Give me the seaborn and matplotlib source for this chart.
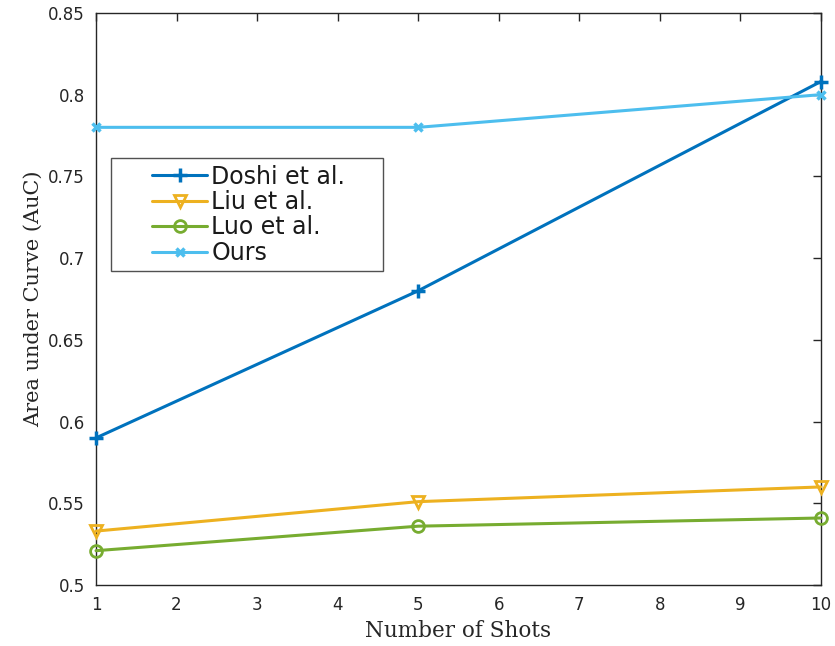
import matplotlib
matplotlib.use("Agg")
import matplotlib.pyplot as plt
from matplotlib.lines import Line2D
from matplotlib.legend_handler import HandlerLine2D
import seaborn as sns
import pandas as pd
import numpy as np

shots = [1, 5, 10]
doshi = [0.590, 0.680, 0.808]
liu = [0.533, 0.551, 0.560]
luo = [0.521, 0.536, 0.541]
ours = [0.780, 0.780, 0.800]
names = ["Doshi et al.", "Liu et al.", "Luo et al.", "Ours"]
colors = ["#0072BD", "#EDB120", "#77AC30", "#4DBEEE"]

sns.set_style("white")
plt.rcParams['font.family'] = ['DejaVu Sans']

fig = plt.figure(figsize=(8.35, 6.46), dpi=100)
ax = fig.add_axes([0.115, 0.0944, 0.868, 0.8856])

styles = [
    dict(marker="+", markersize=10, markeredgewidth=2.5),
    dict(marker="v", markersize=9, markeredgewidth=2, markerfacecolor="none"),
    dict(marker="o", markersize=8.5, markeredgewidth=2, markerfacecolor="none"),
    dict(marker="x", markersize=6, markeredgewidth=2.5),
]
series = [doshi, liu, luo, ours]
for name, vals, c, st in zip(names, series, colors, styles):
    df = pd.DataFrame({"shots": shots, "auc": vals})
    sns.lineplot(data=df, x="shots", y="auc", ax=ax, color=c, linewidth=2.2,
                 label=name, markeredgecolor=c, clip_on=False, zorder=3, **st)

ax.set_xlim(1, 10)
ax.set_ylim(0.5, 0.85)
ax.set_xticks(range(1, 11))
ax.set_yticks([0.5, 0.55, 0.6, 0.65, 0.7, 0.75, 0.8, 0.85])
ax.set_yticklabels(["0.5", "0.55", "0.6", "0.65", "0.7", "0.75", "0.8", "0.85"])
ax.tick_params(direction="in", length=6, width=1, top=True, right=True,
               labelsize=12, colors="#262626", pad=8)
for s in ax.spines.values():
    s.set_color("#262626")
    s.set_linewidth(1)
ax.set_xlabel("Number of Shots", fontsize=15.5, family="DejaVu Serif", color="#262626")
ax.set_ylabel("Area under Curve (AuC)", fontsize=15, family="DejaVu Serif", color="#262626")


class ShiftedHandler(HandlerLine2D):
    def get_xdata(self, legend, xdescent, ydescent, width, height, fontsize):
        x0 = -xdescent + width * 0.39
        x1 = -xdescent + width
        xdata = np.array([x0, x1])
        return xdata, np.array([(x0 + x1) / 2])


leg = ax.legend(loc="upper left", bbox_to_anchor=(0.0207, 0.547, 0.375, 0.1995),
                mode="expand", borderaxespad=0,
                fontsize=17, frameon=True, fancybox=False, handlelength=3.77,
                labelspacing=0.06, handletextpad=0.2, borderpad=0.28,
                handler_map={Line2D: ShiftedHandler(numpoints=1)})
leg.get_frame().set_edgecolor("#262626")
leg.get_frame().set_linewidth(1)
for t in leg.get_texts():
    t.set_color("#1a1a1a")

fig.savefig("out.png", dpi=100)
